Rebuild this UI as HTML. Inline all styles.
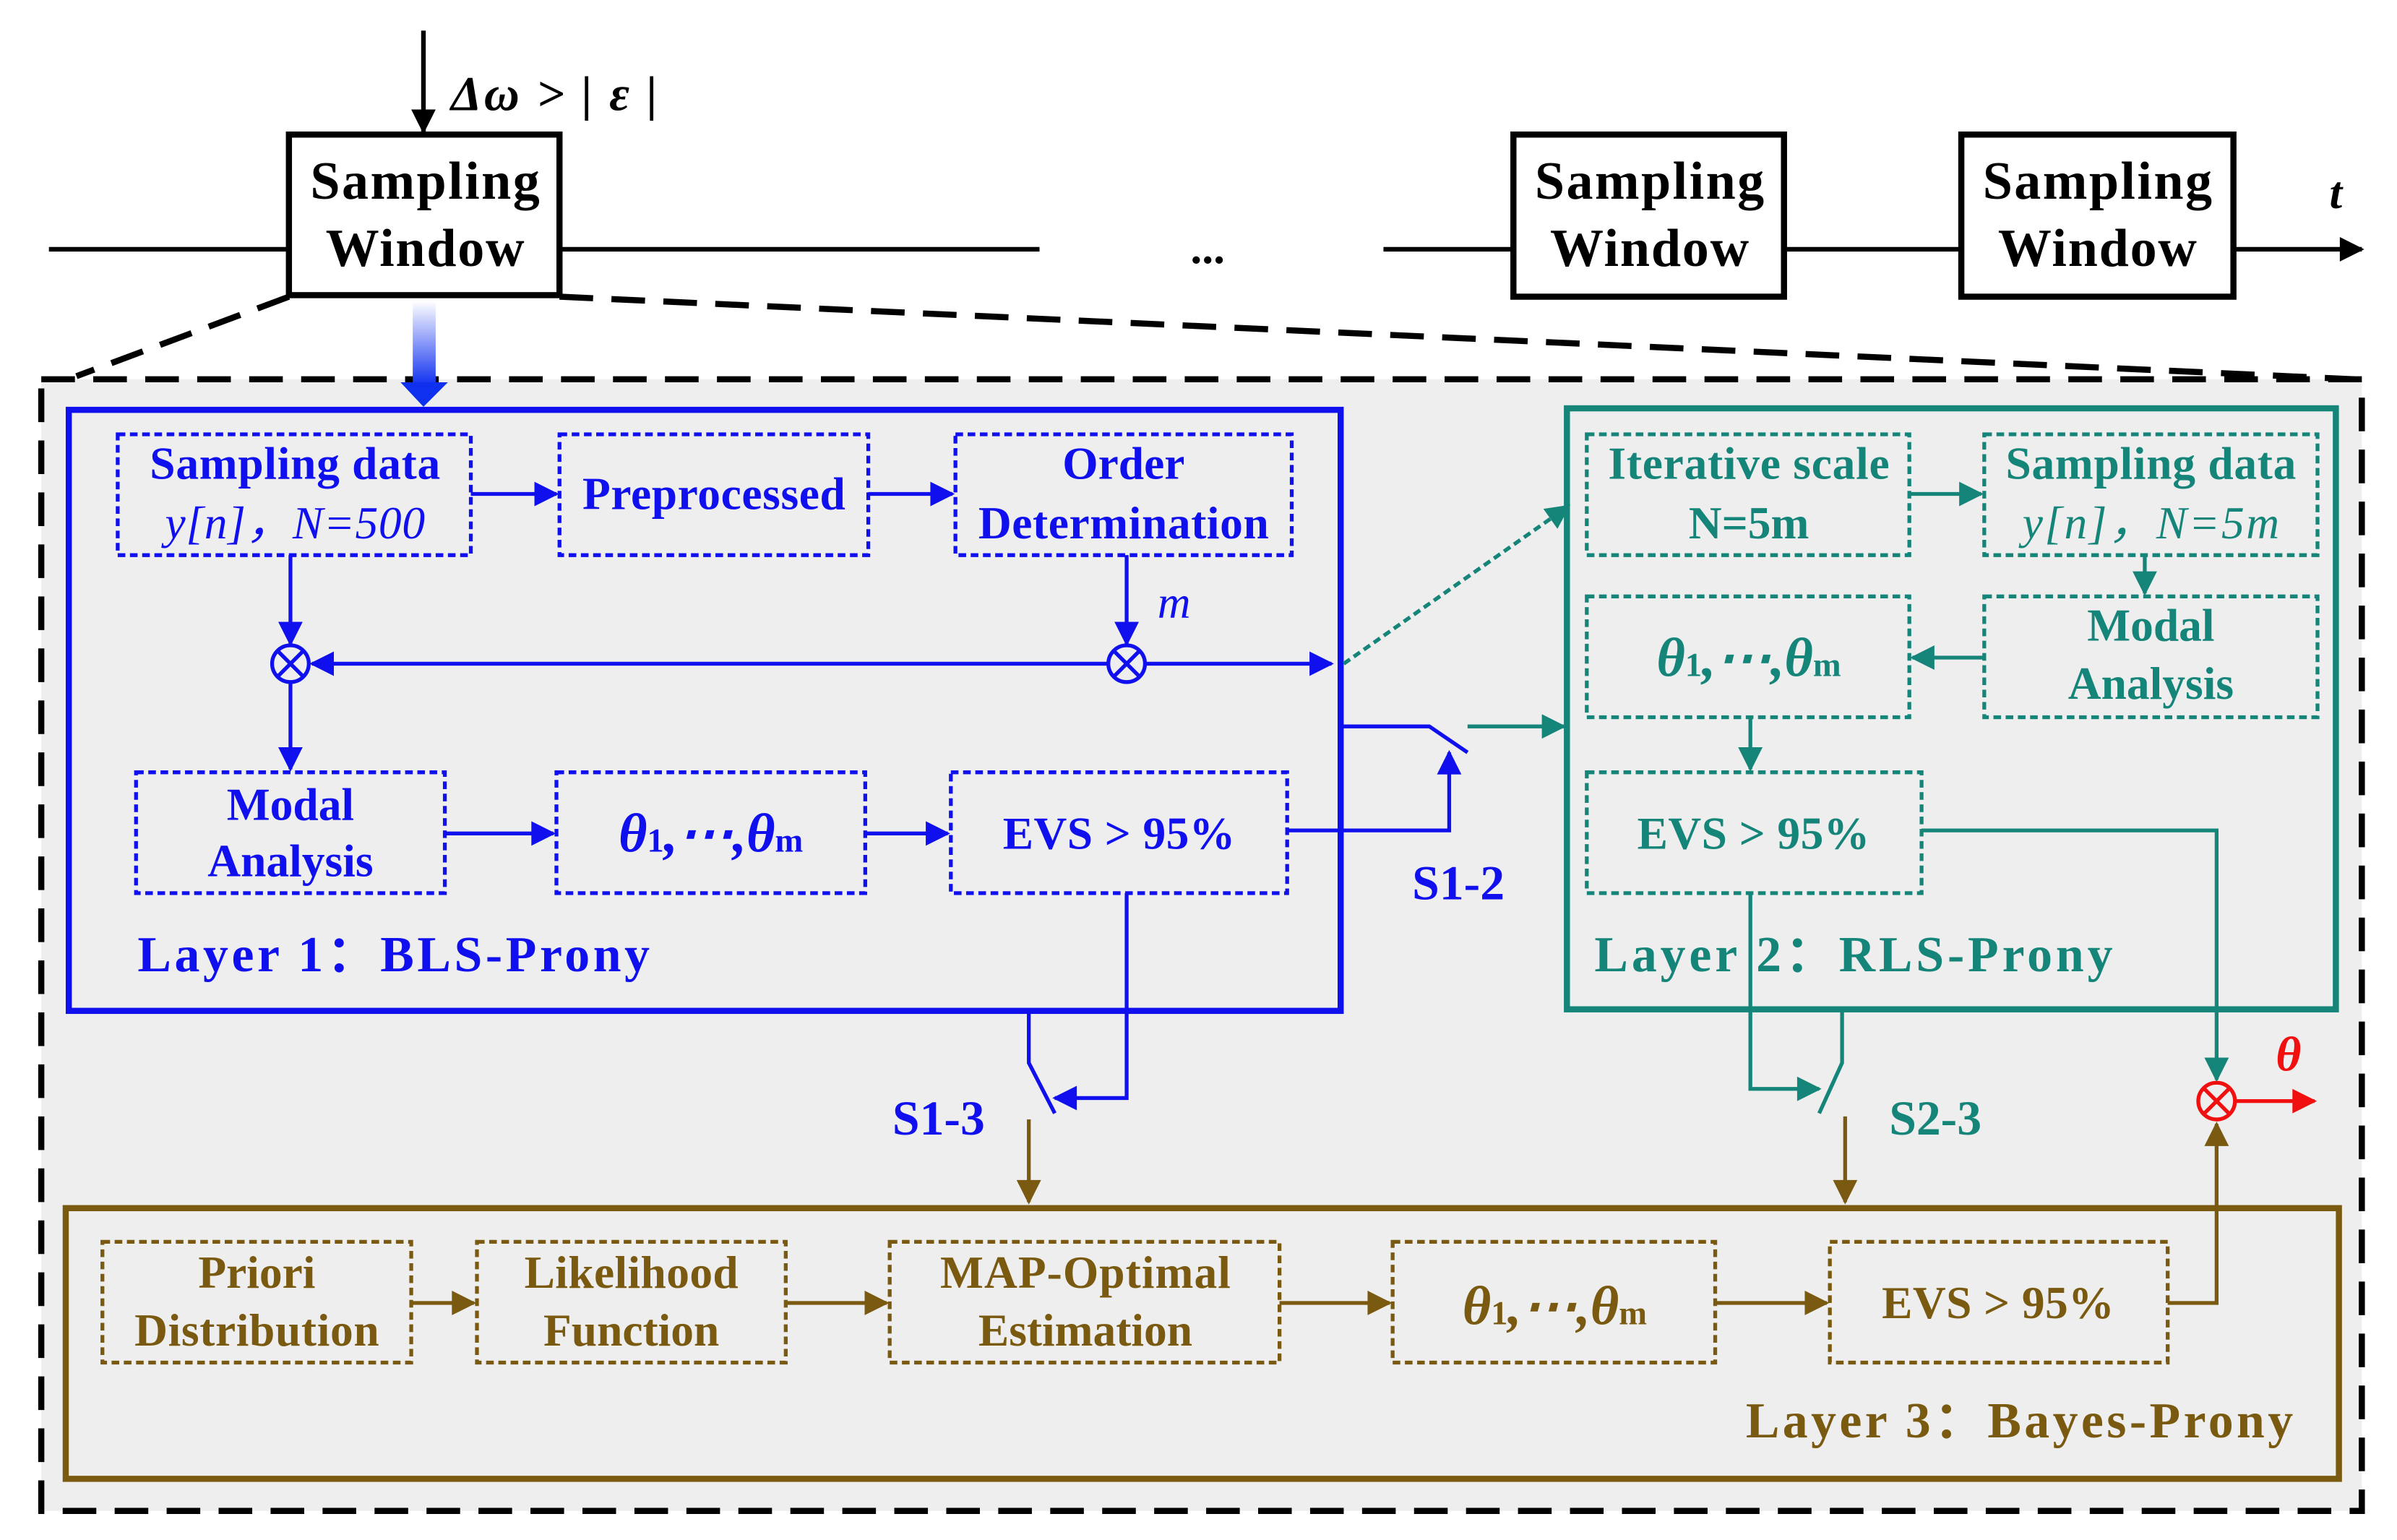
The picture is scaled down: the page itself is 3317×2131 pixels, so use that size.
<!DOCTYPE html>
<html><head><meta charset="utf-8"><style>html,body{margin:0;padding:0;background:#fff}svg{display:block}</style></head><body>
<svg width="3317" height="2131" viewBox="0 0 1568 1007" preserveAspectRatio="none" xmlns="http://www.w3.org/2000/svg" font-family="'Liberation Serif',serif" font-weight="bold">
<defs>
<marker id="ab" viewBox="0 0 10 10" refX="9" refY="5" markerWidth="20" markerHeight="16" orient="auto" markerUnits="userSpaceOnUse"><path d="M0,0L10,5L0,10z" fill="#1010ee"/></marker>
<marker id="ag" viewBox="0 0 10 10" refX="9" refY="5" markerWidth="20" markerHeight="16" orient="auto" markerUnits="userSpaceOnUse"><path d="M0,0L10,5L0,10z" fill="#15857a"/></marker>
<marker id="ao" viewBox="0 0 10 10" refX="9" refY="5" markerWidth="20" markerHeight="16" orient="auto" markerUnits="userSpaceOnUse"><path d="M0,0L10,5L0,10z" fill="#7a5a10"/></marker>
<marker id="ar" viewBox="0 0 10 10" refX="9" refY="5" markerWidth="20" markerHeight="16" orient="auto" markerUnits="userSpaceOnUse"><path d="M0,0L10,5L0,10z" fill="#f01010"/></marker>
<marker id="ablk" viewBox="0 0 10 10" refX="9" refY="5" markerWidth="22" markerHeight="16" orient="auto" markerUnits="userSpaceOnUse"><path d="M0,0L10,5L0,10z" fill="#000"/></marker>
<linearGradient id="gr" x1="0" y1="0" x2="0" y2="1"><stop offset="0" stop-color="#fff"/><stop offset="1" stop-color="#1030f0"/></linearGradient>
</defs>
<line x1="32" y1="163" x2="680" y2="163" stroke="#000" stroke-width="3"/>
<line x1="905" y1="163" x2="1545" y2="163" stroke="#000" stroke-width="3" marker-end="url(#ablk)"/>
<text x="790" y="172" font-size="30" text-anchor="middle">...</text>
<text x="1528" y="136" font-size="30" font-style="italic" text-anchor="middle">t</text>
<line x1="277" y1="20" x2="277" y2="86" stroke="#000" stroke-width="3" marker-end="url(#ablk)"/>
<text x="295" y="72" font-size="32" font-style="italic" textLength="135">Δω &gt; | ε |</text>
<rect x="27" y="248" width="1518" height="740" fill="#eeeeee" stroke="#000" stroke-width="4" stroke-dasharray="22,12"/>
<line x1="189" y1="194" x2="50" y2="246" stroke="#000" stroke-width="4" stroke-dasharray="22,12"/>
<line x1="366" y1="194" x2="1540" y2="248" stroke="#000" stroke-width="4" stroke-dasharray="22,12"/>
<g fill="#fff" stroke="#000" stroke-width="4">
<rect x="189" y="88" width="177" height="105"/><rect x="990" y="88" width="177" height="106"/><rect x="1283" y="88" width="178" height="106"/></g>
<g font-size="35" text-anchor="middle">
<text x="278" y="130" textLength="150">Sampling</text><text x="278" y="174" textLength="130">Window</text>
<text x="1079" y="130" textLength="150">Sampling</text><text x="1079" y="174" textLength="130">Window</text>
<text x="1372" y="130" textLength="150">Sampling</text><text x="1372" y="174" textLength="130">Window</text></g>
<rect x="270" y="197" width="15" height="55" fill="url(#gr)"/>
<path d="M262,250L293,250L277,266z" fill="#1030f0"/>
<g stroke="#1010ee" fill="none">
<rect x="45" y="268" width="832" height="393" stroke-width="4"/>
<g stroke-width="2.5" stroke-dasharray="5,3">
<rect x="77" y="284" width="231" height="79"/><rect x="366" y="284" width="202" height="79"/><rect x="625" y="284" width="220" height="79"/>
<rect x="89" y="505" width="202" height="79"/><rect x="364" y="505" width="202" height="79"/><rect x="622" y="505" width="220" height="79"/></g>
<g stroke-width="2.5">
<line x1="308" y1="323" x2="364" y2="323" marker-end="url(#ab)"/>
<line x1="568" y1="323" x2="623" y2="323" marker-end="url(#ab)"/>
<line x1="190" y1="363" x2="190" y2="421" marker-end="url(#ab)"/>
<line x1="737" y1="363" x2="737" y2="421" marker-end="url(#ab)"/>
<line x1="725" y1="434" x2="204" y2="434" marker-end="url(#ab)"/>
<line x1="749" y1="434" x2="871" y2="434" marker-end="url(#ab)"/>
<line x1="190" y1="447" x2="190" y2="503" marker-end="url(#ab)"/>
<line x1="291" y1="545" x2="362" y2="545" marker-end="url(#ab)"/>
<line x1="566" y1="545" x2="620" y2="545" marker-end="url(#ab)"/>
<circle cx="190" cy="434" r="12"/><path d="M182,426L198,442M198,426L182,442"/>
<circle cx="737" cy="434" r="12"/><path d="M729,426L745,442M745,426L729,442"/>
<polyline points="877,475 935,475 960,492"/>
<polyline points="842,543 948,543 948,492" marker-end="url(#ab)"/>
<polyline points="737,584 737,718 690,718" marker-end="url(#ab)"/>
<polyline points="673,661 673,695 690,728"/>
</g></g>
<g fill="#1010ee" font-size="30" text-anchor="middle">
<text x="193" y="313" textLength="190">Sampling data</text><text x="193" y="352" font-style="italic" font-weight="normal" textLength="170">y[n]，N=500</text>
<text x="467" y="333" textLength="172">Preprocessed</text>
<text x="735" y="313">Order</text><text x="735" y="352" textLength="190">Determination</text>
<text x="190" y="536">Modal</text><text x="190" y="573">Analysis</text>
<text x="465" y="557" font-size="36" font-style="italic">θ<tspan font-size="22" font-style="normal">1</tspan>,⋯,θ<tspan font-size="22" font-style="normal">m</tspan></text>
<text x="732" y="555" textLength="152">EVS &gt; 95%</text>
<text x="768" y="404" font-style="italic" font-weight="normal" font-size="30">m</text>
<text x="90" y="635" text-anchor="start" font-size="33" textLength="335">Layer 1：BLS-Prony</text>
<text x="954" y="588" font-size="32">S1-2</text>
<text x="614" y="742" font-size="32">S1-3</text></g>
<g stroke="#15857a" fill="none">
<rect x="1025" y="267" width="503" height="393" stroke-width="4"/>
<g stroke-width="2.5" stroke-dasharray="5,3">
<rect x="1038" y="284" width="211" height="79"/><rect x="1298" y="284" width="218" height="79"/>
<rect x="1038" y="390" width="211" height="79"/><rect x="1298" y="390" width="218" height="79"/>
<rect x="1038" y="505" width="219" height="79"/>
<line x1="879" y1="434" x2="1026" y2="331" marker-end="url(#ag)"/></g>
<g stroke-width="2.5">
<line x1="960" y1="475" x2="1023" y2="475" marker-end="url(#ag)"/>
<line x1="1249" y1="323" x2="1296" y2="323" marker-end="url(#ag)"/>
<line x1="1403" y1="363" x2="1403" y2="388" marker-end="url(#ag)"/>
<line x1="1298" y1="430" x2="1251" y2="430" marker-end="url(#ag)"/>
<line x1="1145" y1="469" x2="1145" y2="503" marker-end="url(#ag)"/>
<polyline points="1145,584 1145,712 1190,712" marker-end="url(#ag)"/>
<polyline points="1205,661 1205,695 1190,728"/>
<polyline points="1257,543 1450,543 1450,706" marker-end="url(#ag)"/>
</g></g>
<g fill="#15857a" font-size="30" text-anchor="middle">
<text x="1144" y="313" textLength="184">Iterative scale</text><text x="1144" y="352">N=5m</text>
<text x="1407" y="313" textLength="190">Sampling data</text><text x="1407" y="352" font-style="italic" font-weight="normal" textLength="168">y[n]，N=5m</text>
<text x="1144" y="442" font-size="36" font-style="italic">θ<tspan font-size="22" font-style="normal">1</tspan>,⋯,θ<tspan font-size="22" font-style="normal">m</tspan></text>
<text x="1407" y="419">Modal</text><text x="1407" y="457">Analysis</text>
<text x="1147" y="555" textLength="152">EVS &gt; 95%</text>
<text x="1043" y="635" text-anchor="start" font-size="33" textLength="339">Layer 2：RLS-Prony</text>
<text x="1266" y="742" font-size="32">S2-3</text></g>
<g stroke="#7a5a10" fill="none">
<rect x="43" y="790" width="1487" height="177" stroke-width="4"/>
<g stroke-width="2.5" stroke-dasharray="5,3">
<rect x="67" y="812" width="202" height="79"/><rect x="312" y="812" width="202" height="79"/><rect x="582" y="812" width="255" height="79"/>
<rect x="911" y="812" width="211" height="79"/><rect x="1197" y="812" width="221" height="79"/></g>
<g stroke-width="2.5">
<line x1="269" y1="852" x2="310" y2="852" marker-end="url(#ao)"/>
<line x1="514" y1="852" x2="580" y2="852" marker-end="url(#ao)"/>
<line x1="837" y1="852" x2="909" y2="852" marker-end="url(#ao)"/>
<line x1="1122" y1="852" x2="1195" y2="852" marker-end="url(#ao)"/>
<polyline points="1418,852 1450,852 1450,735" marker-end="url(#ao)"/>
<line x1="673" y1="732" x2="673" y2="786" marker-end="url(#ao)"/>
<line x1="1207" y1="730" x2="1207" y2="786" marker-end="url(#ao)"/>
</g></g>
<g fill="#7a5a10" font-size="30" text-anchor="middle">
<text x="168" y="842">Priori</text><text x="168" y="880" textLength="160">Distribution</text>
<text x="413" y="842" textLength="140">Likelihood</text><text x="413" y="880">Function</text>
<text x="710" y="842" textLength="190">MAP-Optimal</text><text x="710" y="880">Estimation</text>
<text x="1017" y="866" font-size="36" font-style="italic">θ<tspan font-size="22" font-style="normal">1</tspan>,⋯,θ<tspan font-size="22" font-style="normal">m</tspan></text>
<text x="1307" y="862" textLength="152">EVS &gt; 95%</text>
<text x="1142" y="940" text-anchor="start" font-size="33" textLength="358">Layer 3：Bayes-Prony</text></g>
<g stroke="#f01010" stroke-width="2.5" fill="none">
<circle cx="1450" cy="720" r="12"/><path d="M1442,712L1458,728M1458,712L1442,728"/>
<line x1="1462" y1="720" x2="1514" y2="720" marker-end="url(#ar)"/></g>
<text x="1497" y="700" fill="#f01010" font-size="32" font-style="italic" text-anchor="middle">θ</text>
</svg>
</body></html>
